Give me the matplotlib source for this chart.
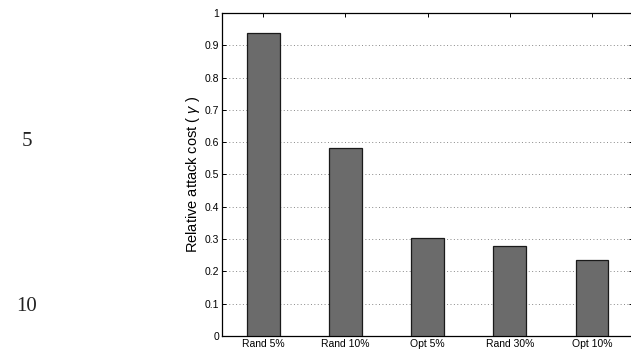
import matplotlib
matplotlib.use("Agg")
from matplotlib import pyplot as plt

# Data
categories = ["Rand 5%", "Rand 10%", "Opt 5%", "Rand 30%", "Opt 10%"]
costs = [0.937, 0.582, 0.304, 0.278, 0.236]
line_numbers = ["5", "10"]
line_number_y = [0.60, 0.137]

plt.rcParams["font.family"] = ["Liberation Sans", "DejaVu Sans"]
plt.rcParams["mathtext.fontset"] = "custom"
plt.rcParams["mathtext.it"] = "Liberation Sans:italic"

fig = plt.figure(figsize=(6.31, 3.55), dpi=100)
ax = fig.add_axes((0.3518, 0.0535, 0.6515, 0.910))

xs = list(range(1, len(categories) + 1))
ax.bar(xs, costs, width=0.4, color="#6b6b6b", edgecolor="#1a1a1a", linewidth=0.9, zorder=3)

ax.set_xlim(0.5, len(categories) + 0.5)
ax.set_ylim(0, 1)
ax.set_yticks([i / 10 for i in range(11)])
ax.set_yticklabels(["0"] + [f"{i / 10:.1f}" for i in range(1, 10)] + ["1"])
ax.set_xticks(xs)
ax.set_xticklabels(categories)
ax.tick_params(axis="both", direction="in", labelsize=7.5, length=3, width=0.7,
               top=True, right=True, pad=2)
ax.yaxis.grid(True, linestyle=(0, (1, 2.5)), color="#888888", linewidth=0.7, zorder=0)
for spine in ax.spines.values():
    spine.set_linewidth(0.9)
# the right border is cut off by the page crop in the reference
ax.spines["right"].set_visible(False)
ax.set_ylabel(r"Relative attack cost ( $\gamma$ )", fontsize=10.5, labelpad=2)

# Paper line numbers in the left margin
for text, y in zip(line_numbers, line_number_y):
    fig.text(0.042, y, text, ha="center", va="center", fontsize=15,
             family=["Liberation Serif", "DejaVu Serif"], color="#222222")

fig.savefig("out.png", dpi=100)
